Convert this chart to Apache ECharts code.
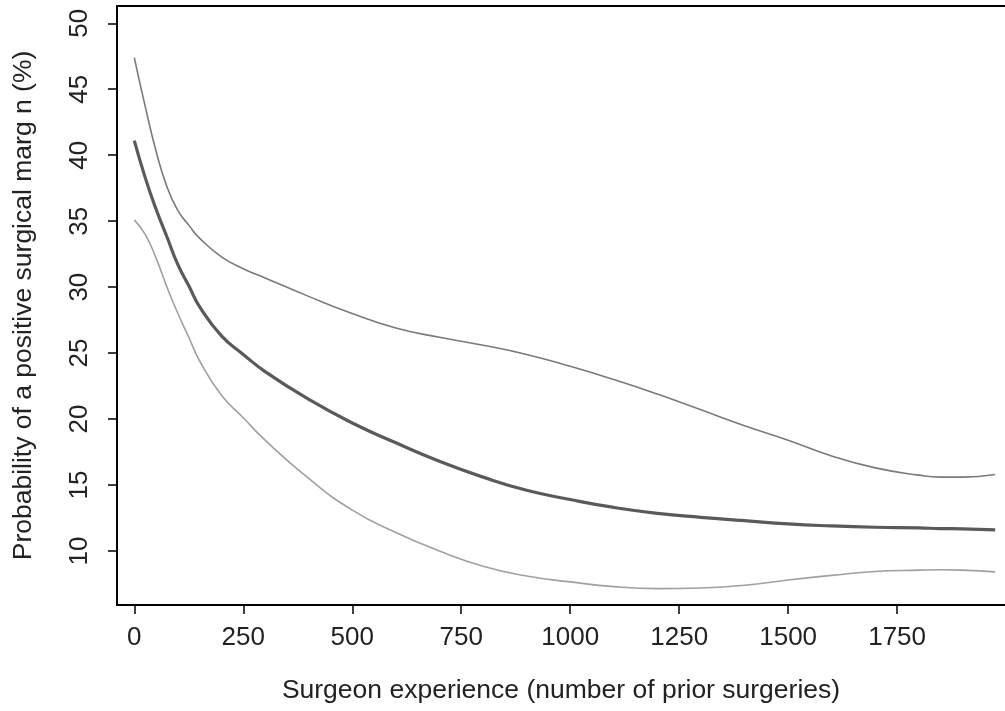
<!DOCTYPE html>
<html>
<head>
<meta charset="utf-8">
<script src="https://cdn.jsdelivr.net/npm/echarts@6/dist/echarts.min.js"></script>
<style>html,body{margin:0;padding:0;background:#fff}#c{width:1005px;height:711px}</style>
</head>
<body>
<div id="c"></div>
<script>
const experience = [0, 25, 50, 75, 100, 125, 150, 200, 250, 300, 400, 500, 600, 700, 800, 900, 1000, 1100, 1200, 1300, 1400, 1500, 1600, 1700, 1800, 1850, 1900, 1975];
const estimate = [41.1, 38.3, 35.9, 33.8, 31.7, 30.1, 28.5, 26.3, 24.9, 23.6, 21.5, 19.7, 18.2, 16.8, 15.6, 14.6, 13.9, 13.3, 12.85, 12.55, 12.3, 12.05, 11.9, 11.8, 11.75, 11.7, 11.68, 11.6];
const upperBound = [47.4, 43.7, 40.3, 37.6, 35.8, 34.7, 33.7, 32.3, 31.4, 30.7, 29.3, 28.0, 26.9, 26.2, 25.6, 24.9, 24.0, 23.0, 21.9, 20.7, 19.5, 18.4, 17.2, 16.3, 15.75, 15.6, 15.6, 15.8];
const lowerBound = [35.1, 34.0, 32.2, 30.0, 28.0, 26.2, 24.4, 21.8, 20.1, 18.4, 15.5, 13.1, 11.4, 10.0, 8.85, 8.1, 7.66, 7.3, 7.15, 7.2, 7.4, 7.8, 8.15, 8.45, 8.55, 8.58, 8.55, 8.42];
const xTicks = [0, 250, 500, 750, 1000, 1250, 1500, 1750];
const yTicks = [10, 15, 20, 25, 30, 35, 40, 45, 50];
const xTitle = 'Surgeon experience (number of prior surgeries)';
const yTitle = 'Probability of a positive surgical marg n (%)';

const pairs = arr => experience.map((x, i) => [x, arr[i]]);
const font = 'Liberation Sans, Arial, sans-serif';
const chart = echarts.init(document.getElementById('c'), null, {renderer: 'canvas'});
chart.setOption({
  animation: false,
  backgroundColor: '#ffffff',
  grid: {left: 117, top: 6, right: 0, bottom: 106, containLabel: false},
  xAxis: [{
    type: 'value', min: -39.7, max: 1997.5,
    axisLine: {show: true, onZero: false, lineStyle: {color: '#000', width: 2}},
    axisTick: {show: true, length: 9, customValues: xTicks, lineStyle: {color: '#000', width: 1.5}},
    axisLabel: {customValues: xTicks, formatter: v => String(v), color: '#222', fontSize: 26, fontFamily: font, margin: 20},
    splitLine: {show: false},
    name: xTitle, nameLocation: 'middle', nameGap: 72,
    nameTextStyle: {color: '#222', fontSize: 26.5, fontFamily: font}
  }, {
    type: 'value', position: 'top', min: -39.7, max: 1997.5,
    axisLine: {show: true, onZero: false, lineStyle: {color: '#000', width: 2}},
    axisTick: {show: false}, axisLabel: {show: false}, splitLine: {show: false}
  }],
  yAxis: {
    type: 'value', min: 5.906, max: 51.31,
    axisLine: {show: true, onZero: false, lineStyle: {color: '#000', width: 2}},
    axisTick: {show: true, length: 9, customValues: yTicks, lineStyle: {color: '#000', width: 1.5}},
    axisLabel: {customValues: yTicks, rotate: 90, color: '#222', fontSize: 26, fontFamily: font, margin: 24},
    splitLine: {show: false},
    name: yTitle, nameLocation: 'middle', nameGap: 80, nameRotate: 90,
    nameTextStyle: {color: '#222', fontSize: 26.5, fontFamily: font}
  },
  series: [
    {type: 'line', data: pairs(upperBound), smooth: 0.5, showSymbol: false, lineStyle: {color: '#7a7a7a', width: 1.6}},
    {type: 'line', data: pairs(lowerBound), smooth: 0.5, showSymbol: false, lineStyle: {color: '#a0a0a0', width: 1.6}},
    {type: 'line', data: pairs(estimate), smooth: 0.5, showSymbol: false, lineStyle: {color: '#5a5a5a', width: 3.2}}
  ]
});
</script>
</body>
</html>
